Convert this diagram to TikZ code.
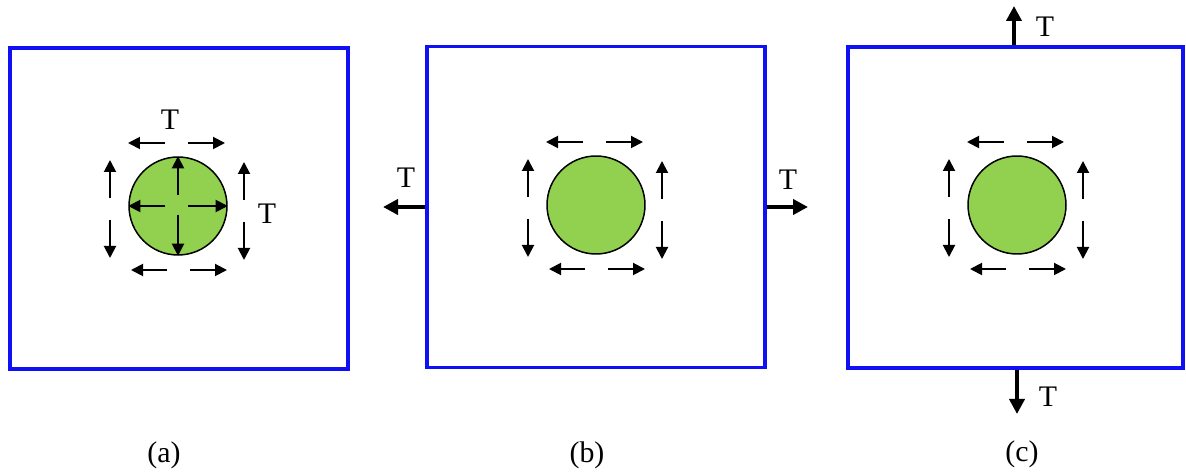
\documentclass[tikz,border=0pt]{standalone}
\usepackage{fontspec}
\setmainfont{Liberation Serif}
\usetikzlibrary{arrows.meta,calc}
\definecolor{frameblue}{HTML}{1010F5}
\definecolor{grain}{HTML}{92D050}
\tikzset{
  panel/.style={draw=frameblue,line width=2.2pt,minimum width=6.76cm,minimum height=6.42cm,inner sep=0pt},
  grain/.style={circle,draw=black,fill=grain,line width=0.85pt,minimum size=1.96cm,inner sep=0pt},
  stress/.style={-{Triangle[length=0.24cm,width=0.24cm]},line width=1.1pt},
  pull/.style={-{Triangle[length=0.3cm,width=0.3cm]},line width=2.8pt},
  lbl/.style={font=\fontsize{17}{20}\selectfont,inner sep=0pt},
}

\begin{document}
\begin{tikzpicture}[x=0.02cm,y=-0.02cm]
  \useasboundingbox (0,0) rectangle (1186,475);
  % frames
  \node[panel] (pa) at (179,208.5) {};
  \node[panel] (pb) at (596,207) {};
  \node[panel,minimum width=6.7cm,minimum height=6.43cm] (pc) at (1015.5,207.3) {};
  % inclusions
  \node[grain] (ca) at (178,206) {};
  \node[grain] (cb) at (596,205) {};
  \node[grain] (cc) at (1017,205) {};
  % stress pairs around each inclusion
  \foreach \c in {ca,cb,cc} {
    \draw[stress] ($(\c)+(-13,-63)$) -- ($(\c)+(-50,-63)$);
    \draw[stress] ($(\c)+(10,-63)$) -- ($(\c)+(47,-63)$);
    \draw[stress] ($(\c)+(-11,64)$) -- ($(\c)+(-47,64)$);
    \draw[stress] ($(\c)+(12,64)$) -- ($(\c)+(49,64)$);
    \draw[stress] ($(\c)+(-68,-8)$) -- ($(\c)+(-68,-46)$);
    \draw[stress] ($(\c)+(-68,14)$) -- ($(\c)+(-68,52)$);
    \draw[stress] ($(\c)+(66,-6)$) -- ($(\c)+(66,-44)$);
    \draw[stress] ($(\c)+(66,16)$) -- ($(\c)+(66,54)$);
  }
  % internal pressure in (a)
  \draw[stress] ($(ca)+(0,-11)$) -- (ca.north);
  \draw[stress] ($(ca)+(0,9)$) -- (ca.south);
  \draw[stress] ($(ca)+(-13,0)$) -- (ca.west);
  \draw[stress] ($(ca)+(10,0)$) -- (ca.east);
  \node[lbl] (ta1) at (170,120) {T};
  \node[lbl] (ta2) at (267,214) {T};
  % far-field tension in (b)
  \coordinate (bl) at (383,207);
  \coordinate (br) at (808,207);
  \draw[pull] (pb.west |- bl) -- (bl);
  \draw[pull] (pb.east |- br) -- (br);
  \node[lbl] (tb1) at (406,178) {T};
  \node[lbl] (tb2) at (788,180) {T};
  % far-field tension in (c)
  \coordinate (ct) at (1014,6);
  \coordinate (cd) at (1017,414);
  \draw[pull] (pc.north -| ct) -- (ct);
  \draw[pull] (pc.south -| cd) -- (cd);
  \node[lbl] (tc1) at (1045,27) {T};
  \node[lbl] (tc2) at (1048,397) {T};
  % captions
  \node[lbl] (capa) at (164,455) {(a)};
  \node[lbl] (capb) at (587,455) {(b)};
  \node[lbl] (capc) at (1022,454) {(c)};
\end{tikzpicture}
\end{document}
